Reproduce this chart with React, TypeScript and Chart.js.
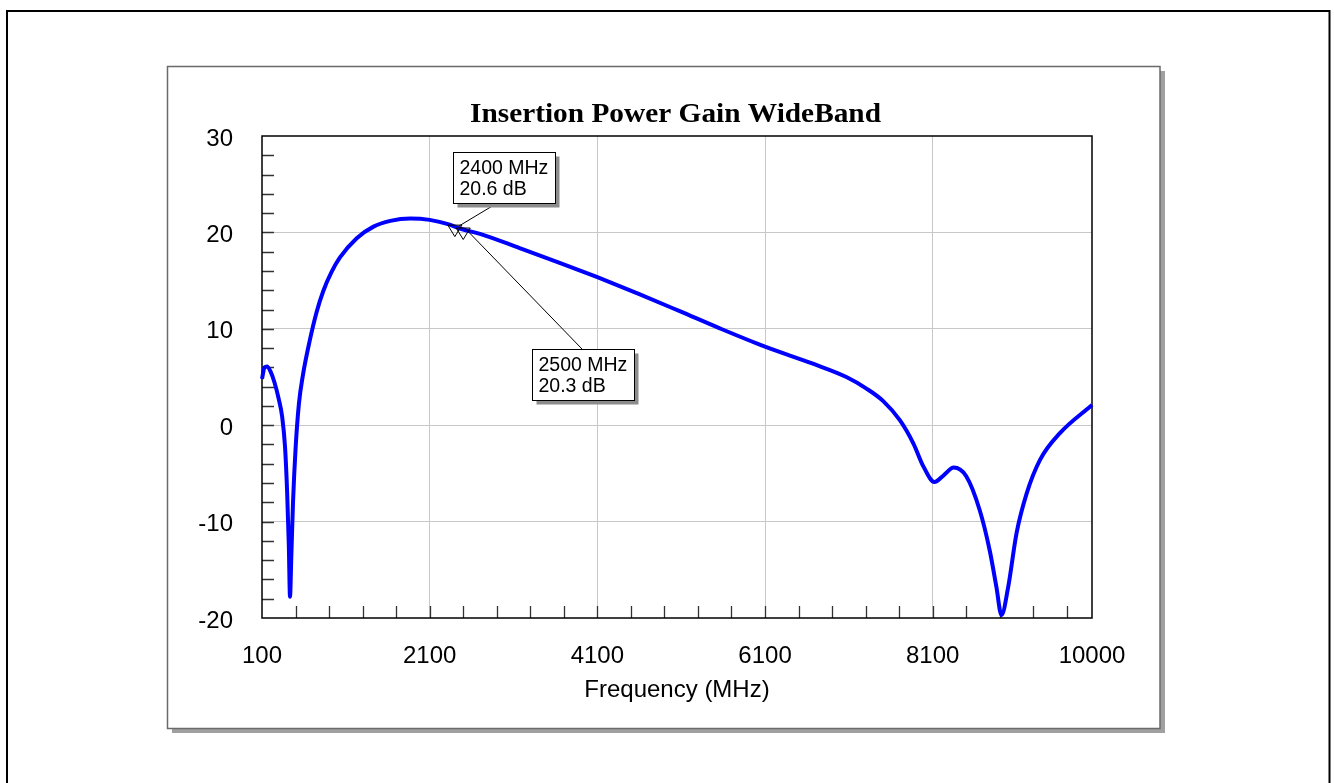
import React, { useEffect, useRef } from 'react';
import { Chart, registerables } from 'chart.js';

Chart.register(...registerables);

// ---- data ----
const FREQ_MHZ = [
  100, 130, 160, 200, 250, 300, 340, 375, 400, 420,
  434, 450, 470, 500, 540, 590, 670, 750, 830, 930,
  1030, 1230, 1430, 1630, 1870, 2100, 2340, 2400, 2500, 2700,
  3180, 3650, 4100, 4600, 5090, 5560, 6100, 6680, 7070, 7310,
  7510, 7710, 7870, 7990, 8120, 8230, 8350, 8500, 8660, 8780,
  8860, 8920, 9000, 9100, 9220, 9380, 9620, 10000,
];
const GAIN_DB = [
  4.8, 6.0, 6.1, 5.6, 4.4, 2.7, 0.9, -2.3, -7.0, -12.5,
  -17.8, -13.5, -8.0, -2.5, 2.2, 5.3, 8.8, 11.7, 13.9, 15.9,
  17.4, 19.4, 20.6, 21.2, 21.45, 21.3, 20.8, 20.6, 20.3, 19.85,
  18.35, 16.85, 15.35, 13.6, 11.8, 10.05, 8.15, 6.35, 5.0, 3.8,
  2.5, 0.5, -1.9, -4.3, -5.9, -5.2, -4.4, -5.3, -8.8, -13.0,
  -16.8, -19.7, -16.8, -11.2, -7.1, -3.6, -0.8, 2.1,
];
const X_TICKS = [100, 2100, 4100, 6100, 8100, 10000];
const Y_TICKS = [-20, -10, 0, 10, 20, 30];
const X_MINOR_STEP = 400;
const Y_MINOR_STEP = 2;
const MARKER_FREQ = [2400, 2500];
const MARKER_GAIN = [20.6, 20.3];
const MARKER_TEXT = [
  ['2400 MHz', '20.6 dB'],
  ['2500 MHz', '20.3 dB'],
];
const TITLE = 'Insertion Power Gain WideBand';
const X_TITLE = 'Frequency (MHz)';

// ---- styling ----
const SANS = '"Liberation Sans", Arial, sans-serif';
const SERIF = '"Liberation Serif", "Times New Roman", serif';
const GRID = '#c8c8c8';
// annotation box layout relative to its marker (pixels)
const BOX_OFFSETS = [
  { dx: -1.5, dy: -75, lineFromX: 43, lineFromTop: false, endDx: 4, endDy: -0.5 },
  { dx: 68.5, dy: 119, lineFromX: 50, lineFromTop: true, endDx: 3, endDy: 0 },
];

const framePlugin = {
  id: 'frame',
  beforeDraw(chart: any) {
    const ctx = chart.ctx;
    ctx.save();
    ctx.fillStyle = '#ffffff';
    ctx.fillRect(0, 0, chart.width, chart.height);
    // outer black border
    ctx.strokeStyle = '#000000';
    ctx.lineWidth = 2;
    ctx.strokeRect(7, 11, 1322.5, 800);
    // panel shadow
    ctx.fillStyle = '#a0a0a0';
    ctx.fillRect(172, 71, 993, 662);
    // panel
    ctx.fillStyle = '#ffffff';
    ctx.fillRect(167.5, 66.5, 992.5, 662);
    ctx.strokeStyle = '#6a6a6a';
    ctx.lineWidth = 1.5;
    ctx.strokeRect(167.5, 66.5, 992.5, 662);
    ctx.restore();
  },
  afterDraw(chart: any) {
    const ctx = chart.ctx;
    const { left, right } = chart.chartArea;
    ctx.save();
    ctx.font = `bold 28px ${SERIF}`;
    const w = ctx.measureText(TITLE).width;
    const sx = 411 / w;
    ctx.translate((left + right) / 2 - 1.5, 122);
    ctx.scale(sx, 1);
    ctx.fillStyle = '#000000';
    ctx.textAlign = 'center';
    ctx.textBaseline = 'alphabetic';
    ctx.fillText(TITLE, 0, 0);
    ctx.restore();
  },
};

const plotFramePlugin = {
  id: 'plotFrame',
  beforeDatasetsDraw(chart: any) {
    const ctx = chart.ctx;
    const { left, right, top, bottom } = chart.chartArea;
    const xs = chart.scales.x;
    const ys = chart.scales.y;
    ctx.save();
    // minor ticks
    ctx.strokeStyle = '#333333';
    ctx.lineWidth = 1.3;
    ctx.beginPath();
    for (let v = xs.min + X_MINOR_STEP; v < xs.max; v += X_MINOR_STEP) {
      const px = Math.round(xs.getPixelForValue(v)) + 0.5;
      ctx.moveTo(px, bottom);
      ctx.lineTo(px, bottom - 12);
    }
    for (let v = ys.min + Y_MINOR_STEP; v < ys.max; v += Y_MINOR_STEP) {
      const py = Math.round(ys.getPixelForValue(v)) + 0.5;
      ctx.moveTo(left, py);
      ctx.lineTo(left + 12, py);
    }
    ctx.stroke();
    // plot border
    ctx.strokeStyle = '#000000';
    ctx.lineWidth = 1.5;
    ctx.strokeRect(left, top, right - left, bottom - top);
    ctx.restore();
  },
};

const annotationPlugin = {
  id: 'markers',
  afterDatasetsDraw(chart: any) {
    const ctx = chart.ctx;
    const xs = chart.scales.x;
    const ys = chart.scales.y;
    ctx.save();
    ctx.font = `19.5px ${SANS}`;
    MARKER_FREQ.forEach((f, i) => {
      const px = xs.getPixelForValue(f);
      const py = ys.getPixelForValue(MARKER_GAIN[i]);
      const o = BOX_OFFSETS[i];
      const lines = MARKER_TEXT[i];
      const tw = Math.max(...lines.map((t) => ctx.measureText(t).width));
      const bw = Math.round(tw + 13);
      const bh = 51;
      const bx = Math.round(px + o.dx) + 0.5;
      const by = Math.round(py + o.dy) + 0.5;
      // leader line
      ctx.strokeStyle = '#000000';
      ctx.lineWidth = 1;
      ctx.beginPath();
      ctx.moveTo(bx + o.lineFromX, o.lineFromTop ? by : by + bh);
      ctx.lineTo(px + o.endDx, py + o.endDy);
      ctx.stroke();
      // triangle marker (pointing down)
      ctx.beginPath();
      ctx.moveTo(px - 7, py - 1.5);
      ctx.lineTo(px + 7, py - 1.5);
      ctx.lineTo(px, py + 10);
      ctx.closePath();
      ctx.strokeStyle = '#000000';
      ctx.lineWidth = 1;
      ctx.stroke();
      // box shadow
      ctx.fillStyle = '#8c8c8c';
      ctx.fillRect(bx + 4, by + 4, bw, bh);
      // box
      ctx.fillStyle = '#ffffff';
      ctx.fillRect(bx, by, bw, bh);
      ctx.strokeStyle = '#000000';
      ctx.strokeRect(bx, by, bw, bh);
      ctx.fillStyle = '#000000';
      ctx.textAlign = 'left';
      ctx.textBaseline = 'alphabetic';
      ctx.fillText(lines[0], bx + 6, by + 21);
      ctx.fillText(lines[1], bx + 6, by + 42);
    });
    ctx.restore();
  },
};

export default function App() {
  const canvasRef = useRef<HTMLCanvasElement | null>(null);

  useEffect(() => {
    if (!canvasRef.current) return;
    const points = FREQ_MHZ.map((f, i) => ({ x: f, y: GAIN_DB[i] }));
    const chart = new Chart(canvasRef.current, {
      type: 'line',
      data: {
        datasets: [
          {
            data: points,
            borderColor: '#0000ff',
            borderWidth: 4,
            pointRadius: 0,
            cubicInterpolationMode: 'monotone',
            fill: false,
            clip: 6,
          } as any,
        ],
      },
      options: {
        responsive: false,
        animation: false,
        events: [],
        layout: { padding: { left: 162, top: 136, right: 242, bottom: 78 } },
        plugins: {
          legend: { display: false },
          tooltip: { enabled: false },
          title: { display: false },
        },
        scales: {
          x: {
            type: 'linear',
            min: 100,
            max: 10000,
            afterBuildTicks: (s: any) => {
              s.ticks = X_TICKS.map((v) => ({ value: v }));
            },
            afterFit: (s: any) => {
              s.height = 87;
            },
            ticks: {
              color: '#000000',
              font: { family: SANS, size: 24 },
              padding: 24,
              maxRotation: 0,
              autoSkip: false,
              callback: (v: any) => String(v),
            },
            grid: {
              color: (c: any) =>
                c.tick && (c.tick.value === 100 || c.tick.value === 10000) ? 'rgba(0,0,0,0)' : GRID,
              lineWidth: 1,
              drawTicks: false,
            },
            border: { display: false },
            title: {
              display: true,
              text: X_TITLE,
              color: '#000000',
              font: { family: SANS, size: 24 },
              padding: { top: 0, bottom: 0 },
            },
          },
          y: {
            type: 'linear',
            min: -20,
            max: 30,
            afterBuildTicks: (s: any) => {
              s.ticks = Y_TICKS.map((v) => ({ value: v }));
            },
            afterFit: (s: any) => {
              s.width = 100;
            },
            ticks: {
              color: '#000000',
              font: { family: SANS, size: 24 },
              padding: 29,
              labelOffset: 3,
              callback: (v: any) => String(v),
            },
            grid: {
              color: (c: any) =>
                c.tick && (c.tick.value === -20 || c.tick.value === 30) ? 'rgba(0,0,0,0)' : GRID,
              lineWidth: 1,
              drawTicks: false,
            },
            border: { display: false },
          },
        },
      } as any,
      plugins: [framePlugin, plotFramePlugin, annotationPlugin],
    });
    return () => chart.destroy();
  }, []);

  return (
    <div style={{ position: 'fixed', left: 0, top: 0, width: 1334, height: 783, background: '#fff' }}>
      <canvas ref={canvasRef} width={1334} height={783} style={{ display: 'block' }} />
    </div>
  );
}
